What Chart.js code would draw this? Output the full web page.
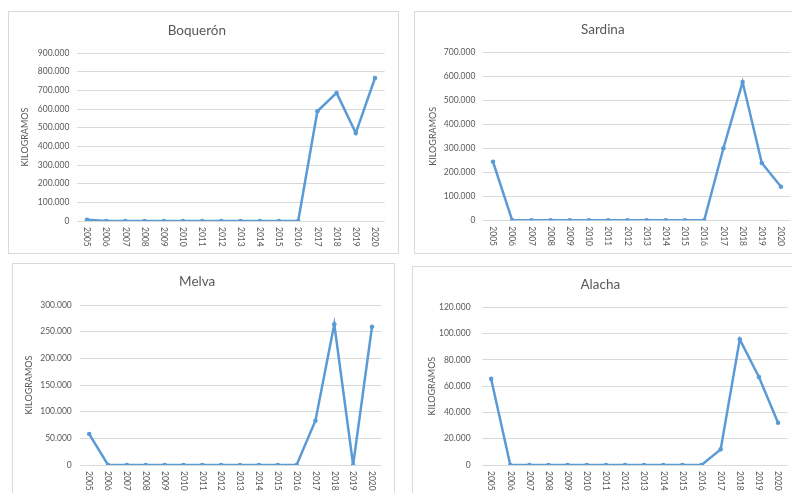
<!DOCTYPE html>
<html>
<head>
<meta charset="utf-8">
<script src="https://cdn.jsdelivr.net/npm/chart.js@4/dist/chart.umd.min.js"></script>
<style>
  body { margin: 0; background: #fff; overflow: hidden; width: 792px; height: 493px; position: relative; }
  .panel { position: absolute; border: 1px solid #d9d9d9; background: #fff; box-sizing: border-box; }
  .panel canvas { display: block; }
</style>
</head>
<body>
<div class="panel" id="p0"><canvas id="c0"></canvas></div>
<div class="panel" id="p1"><canvas id="c1"></canvas></div>
<div class="panel" id="p2"><canvas id="c2"></canvas></div>
<div class="panel" id="p3"><canvas id="c3"></canvas></div>
<script>
// data (kilogramos por año)
const years = ["2005","2006","2007","2008","2009","2010","2011","2012","2013","2014","2015","2016","2017","2018","2019","2020"];
const boqueron = [7000, 0, 0, 0, 0, 0, 0, 0, 0, 0, 0, 0, 588000, 686000, 471000, 766000];
const sardina  = [244000, 0, 0, 0, 0, 0, 0, 0, 0, 0, 0, 0, 300000, 576000, 239000, 140000];
const melva    = [58000, 0, 0, 0, 0, 0, 0, 0, 0, 0, 0, 0, 83000, 264000, 0, 259000];
const alacha   = [65500, 0, 0, 0, 0, 0, 0, 0, 0, 0, 0, 0, 11900, 95600, 67000, 32200];

const titles = ["Boquerón", "Sardina", "Melva", "Alacha"];
const series = [boqueron, sardina, melva, alacha];
const yMaxes = [900000, 700000, 300000, 120000];
const ySteps = [100000, 100000, 50000, 20000];

// panel boxes and plot areas in page pixels
const layouts = [
  { x: 8,   y: 11,  w: 391, h: 243, l: 77.4,  t: 53,    r: 384.6, b: 221, titleY: 31,   axisX: 25,  tickPad: 8 },
  { x: 414, y: 11,  w: 390, h: 243, l: 483.4, t: 52.3,  r: 790.6, b: 220.3, titleY: 29.5, axisX: 433, tickPad: 8 },
  { x: 12,  y: 263, w: 383, h: 243, l: 79.8,  t: 305,   r: 381.4, b: 465, titleY: 282,  axisX: 29,  tickPad: 8 },
  { x: 412, y: 266, w: 390, h: 243, l: 481.6, t: 307.3, r: 787.6, b: 465, titleY: 285,  axisX: 432, tickPad: 11 }
];

const BLUE = "#5B9BD5";
const GREY = "#595959";
const GRID = "#d9d9d9";
const FONT = "Lato, 'Liberation Sans', sans-serif";

const fmt = v => v === 0 ? "0" : String(v).replace(/\B(?=(\d{3})+(?!\d))/g, ".");

// x labels in the reference read top-to-bottom, so draw them turned clockwise
const rotatedLabels = {
  id: "rotatedLabels",
  afterDraw(chart) {
    const s = chart.scales.x, ctx = chart.ctx;
    ctx.save();
    ctx.fillStyle = GREY;
    ctx.font = "8.5px " + FONT;
    ctx.textAlign = "left";
    ctx.textBaseline = "middle";
    s.ticks.forEach((t, i) => {
      ctx.save();
      ctx.translate(s.getPixelForTick(i), s.top + 6);
      ctx.rotate(Math.PI / 2);
      ctx.fillText(chart.data.labels[i], 0, 0);
      ctx.restore();
    });
    ctx.restore();
  }
};

layouts.forEach((L, i) => {
  const panel = document.getElementById("p" + i);
  panel.style.left = L.x + "px";
  panel.style.top = L.y + "px";
  panel.style.width = L.w + "px";
  panel.style.height = L.h + "px";
  const cw = L.w - 2, ch = L.h - 2;
  const cx = L.x + 1, cy = L.y + 1;
  const canvas = document.getElementById("c" + i);
  canvas.width = cw;
  canvas.height = ch;

  const titleSize = 13.5, titleLH = titleSize * 1.2;
  const titleTop = (L.titleY - cy) - titleLH / 2;
  const titleBottom = (L.t - cy) - titleTop - titleLH;
  const axisSize = 9, axisLH = axisSize * 1.2;

  new Chart(canvas, {
    type: "line",
    data: {
      labels: years,
      datasets: [{
        data: series[i],
        borderColor: BLUE,
        backgroundColor: BLUE,
        borderWidth: 2.5,
        pointRadius: 2.3,
        pointHoverRadius: 2.3,
        pointBorderWidth: 0,
        tension: 0
      }]
    },
    options: {
      responsive: false,
      animation: false,
      layout: { padding: { left: 0, top: 0, bottom: 0, right: (cx + cw) - L.r } },
      plugins: {
        legend: { display: false },
        tooltip: { enabled: false },
        title: {
          display: true,
          text: titles[i],
          color: GREY,
          font: { family: FONT, size: titleSize, weight: "normal" },
          padding: { top: titleTop, bottom: titleBottom }
        }
      },
      scales: {
        x: {
          offset: true,
          grid: { display: false },
          border: { display: false },
          ticks: { display: false },
          afterFit: s => { s.height = (cy + ch) - L.b; }
        },
        y: {
          min: 0,
          max: yMaxes[i],
          grid: { color: GRID, drawTicks: false, lineWidth: 1 },
          border: { display: false },
          ticks: {
            stepSize: ySteps[i],
            color: GREY,
            padding: L.tickPad,
            font: { family: FONT, size: 8.5 },
            callback: v => fmt(v)
          },
          title: {
            display: true,
            text: "KILOGRAMOS",
            color: GREY,
            font: { family: FONT, size: axisSize },
            padding: { top: (L.axisX - cx) - axisLH / 2, bottom: 0 }
          },
          afterFit: s => { s.width = L.l - cx; }
        }
      }
    },
    plugins: [rotatedLabels]
  });
});
</script>
</body>
</html>
